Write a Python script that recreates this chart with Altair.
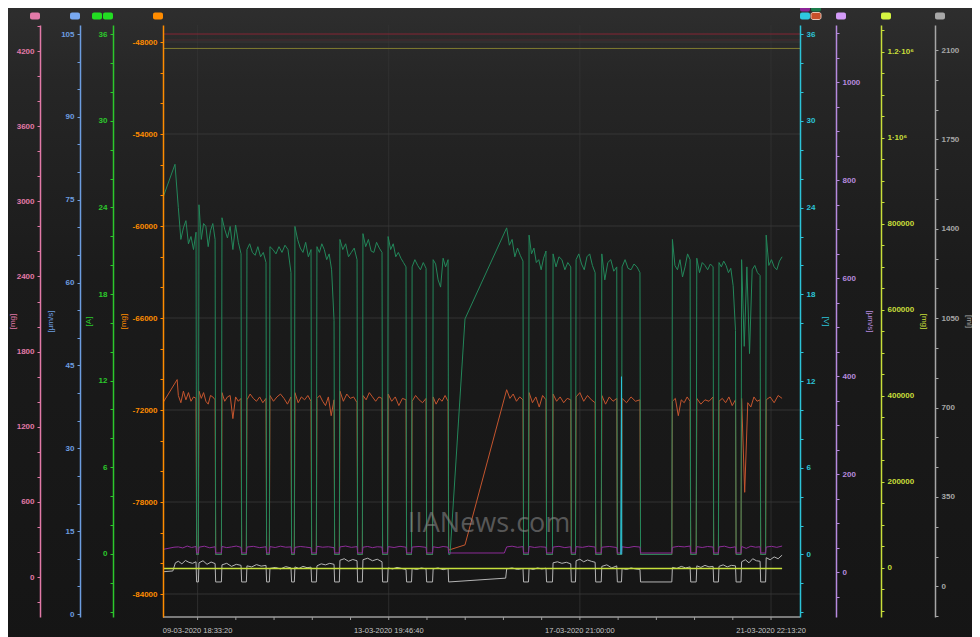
import altair as alt
import numpy as np
import pandas as pd

# ---------------- time axis ----------------
T0 = "2020-03-09 18:33:20"          # first labelled tick
X_DOMAIN_H = [-17.6, 306.4]         # visible span, hours from T0
X_TICK_S = 70000                    # tick spacing (s)
X_LABEL_S = 350000                  # labelled tick spacing (s)
N_XTICKS = 16

# ---------------- on-periods (hours from T0) ----------------
seg_bounds = [
    (-9.8, -0.8), (0.7, 8.9), (12.4, 22.1), (25.1, 34.8), (36.8, 47.5),
    (49.5, 57.7), (60.7, 69.4), (72.4, 81.1), (84.1, 93.8), (96.9, 106.0),
    (109.1, 116.2), (119.8, 127.4), (157.2, 165.5), (168.6, 177.2), (180.8, 189.8),
    (192.5, 202.2), (205.6, 213.2), (215.9, 225.0), (241.5, 250.5), (253.9, 262.2),
    (265.2, 273.6), (276.7, 286.1), (289.2, 297.3),
]

# dark green series [V]
green_lead = [(-17.6, 24.7), (-11.5, 27.0)]
green_segs = [
    [24.0, 21.8, 22.6, 23.1, 21.5, 22.0, 21.1, 22.3],
    [24.2, 21.8, 22.9, 22.7, 21.3, 22.4, 22.9, 21.8],
    [23.3, 22.5, 21.9, 22.7, 21.1, 22.8, 21.6, 20.8],
    [21.1, 21.5, 20.9, 20.7, 21.3, 20.6, 20.9, 20.2],
    [21.3, 21.1, 20.8, 21.3, 20.9, 21.4, 21.1, 19.5],
    [22.7, 21.8, 21.2, 20.9, 21.6, 20.6, 21.1],
    [21.3, 20.9, 21.5, 21.1, 20.4, 20.8, 19.7, 16.2],
    [21.8, 21.1, 21.5, 20.6, 20.9, 21.2, 20.4],
    [22.2, 21.3, 21.8, 21.0, 20.9, 21.6, 21.2, 20.9],
    [22.0, 21.1, 21.5, 20.6, 20.9, 20.5, 20.2, 19.9],
    [19.9, 20.4, 20.0, 19.7, 20.2, 19.8],
    [20.4, 20.1, 19.0, 18.5, 20.5, 19.9, 20.4],
    [22.6, 21.4, 21.8, 20.6, 21.2, 20.7, 20.3],
    [22.1, 20.8, 21.2, 20.2, 20.4, 19.7, 20.5, 21.0],
    [20.8, 19.9, 20.6, 20.4, 19.7, 20.2, 19.9],
    [20.4, 20.8, 20.1, 19.7, 20.6, 20.8, 20.0, 19.5],
    [20.8, 19.0, 20.2, 20.4, 19.6, 19.9],
    [19.9, 20.4, 19.8, 19.7, 20.1, 19.9, 19.5],
    [21.8, 20.0, 19.7, 20.4, 19.2, 19.9, 20.8, 20.4],
    [20.5, 19.5, 20.2, 20.0, 19.7, 20.1, 19.9],
    [20.2, 19.9, 20.3, 20.0, 19.5, 19.8, 18.6, 15.5],
    [20.4, 14.4, 19.9, 13.9, 19.7, 20.0, 19.5, 19.3],
    [22.1, 20.0, 20.4, 19.9, 19.7, 20.3, 20.6],
]
green_gaps = {11: [(127.7, 0.0), (128.4, 0.0), (136.0, 16.3)]}

# orange-red series [V]
ored_lead = [(-17.6, 10.5), (-10.4, 12.1)]
ored_segs = [
    [11.0, 10.5, 11.3, 10.7, 11.2, 10.6, 10.9, 10.8],
    [11.3, 10.8, 11.2, 10.6, 10.4, 11.0, 10.9, 10.7],
    [11.2, 10.6, 10.9, 11.0, 9.4, 10.9, 10.6, 10.8],
    [10.7, 11.1, 10.8, 10.6, 10.9, 10.5, 10.8],
    [11.0, 10.6, 10.9, 11.1, 10.8, 10.4, 10.9],
    [11.2, 10.5, 10.9, 10.7, 11.0, 10.6],
    [10.8, 11.0, 10.6, 10.3, 10.9, 9.6, 10.7],
    [11.3, 10.6, 11.1, 10.8, 10.9, 10.5],
    [11.0, 10.7, 11.2, 10.9, 10.6, 10.9, 10.8],
    [11.1, 10.6, 10.9, 10.3, 10.8, 10.7],
    [10.6, 11.0, 10.7, 10.5, 10.8],
    [10.9, 10.4, 10.8, 10.6, 11.0, 10.6],
    [11.4, 10.8, 11.1, 10.6, 10.9, 10.7],
    [11.2, 10.5, 10.9, 10.2, 11.0, 10.7],
    [11.1, 10.6, 10.9, 10.5, 10.8, 10.7],
    [10.9, 11.2, 10.6, 11.0, 10.7, 10.5],
    [11.0, 10.4, 10.9, 10.6, 10.8],
    [10.8, 10.5, 10.9, 10.6, 10.7],
    [10.6, 10.8, 9.6, 10.7, 10.5, 10.9, 10.6],
    [10.8, 10.4, 10.7, 10.6, 10.9],
    [10.6, 10.8, 10.5, 10.9, 10.3, 10.7],
    [10.8, 4.3, 10.5, 10.2, 10.9, 10.6, 10.7],
    [10.7, 10.9, 10.5, 11.0, 10.8],
]
ored_gaps = {11: [(127.7, 0.3), (136.0, 0.66)]}

# purple series [V]
purple_lead = [(-17.6, 0.35), (-12.0, 0.5)]
purple_segs = [
    [0.52, 0.45, 0.58, 0.48, 0.55], [0.50, 0.57, 0.46, 0.53], [0.55, 0.47, 0.52, 0.58, 0.49],
    [0.51, 0.56, 0.47, 0.53], [0.54, 0.48, 0.57, 0.50, 0.52], [0.49, 0.55, 0.51, 0.46],
    [0.56, 0.50, 0.53, 0.47], [0.52, 0.58, 0.49, 0.54], [0.50, 0.55, 0.47, 0.53, 0.51],
    [0.54, 0.48, 0.56, 0.50], [0.51, 0.55, 0.49], [0.53, 0.47, 0.55, 0.50],
    [0.52, 0.57, 0.49, 0.54], [0.55, 0.48, 0.53, 0.50], [0.51, 0.56, 0.47, 0.53],
    [0.54, 0.49, 0.57, 0.51], [0.50, 0.55, 0.48], [0.53, 0.47, 0.55, 0.51],
    [0.49, 0.56, 0.52, 0.58], [0.54, 0.48, 0.55, 0.51], [0.52, 0.57, 0.46, 0.53],
    [0.55, 0.42, 0.57, 0.50, 0.53], [0.51, 0.56, 0.49, 0.58],
]
purple_gaps = {11: [(127.7, 0.1), (156.0, 0.1)]}

# cyan series [V] (short spike)
cyan_pts = [(215.2, 0.0), (215.6, 12.3), (215.75, 0.0)]

# gray series [ml]
gray_lead = [(-17.6, 57), (-12.6, 60), (-11.3, 92)]
gray_segs = [
    [98, 88, 101, 94, 90, 96], [92, 100, 86, 95, 89], [84, 90, 78, 86, 82],
    [80, 76, 85, 79, 82], [70, 74, 68, 77, 72], [76, 70, 78, 73, 75],
    [80, 88, 84, 90, 86], [102, 108, 98, 105, 100], [104, 110, 100, 106, 96],
    [72, 68, 74, 70, 66], [70, 66, 72, 68], [68, 72, 65, 70],
    [68, 72, 66, 70], [70, 66, 72, 68, 71], [92, 96, 90, 94, 88],
    [100, 106, 96, 103, 98, 94], [78, 84, 72, 80], [70, 66, 72, 68, 66],
    [74, 70, 78, 72, 76], [80, 74, 82, 76, 78], [78, 84, 76, 82, 80],
    [96, 104, 92, 108, 100, 98], [112, 104, 115, 108, 122],
]
gray_gaps = {11: [(127.7, 17), (156.7, 32)]}

# yellow-green series [mg]
yellow_pts = [(-17.6, -2000), (297.3, -2000)]

# top limit lines on the orange [mg] axis
limit_hi = -47480
limit_mid = -47870
limit_lo = -48420

# axis ranges
Y_PINK = [-319, 4408]
Y_BLUE = [-0.54, 106.63]
Y_GREEN = [-4.38, 36.64]
Y_ORANGE = [-85500, -46891]
Y_CYAN = [-4.33, 36.64]
Y_VIOLET = [-91, 1117]
Y_YELLOW = [-114650, 1262000]
Y_GRAY = [-120.2, 2197.9]

# ---------------- build ----------------
FONT = "Liberation Sans"
W, H = 637, 592
T0_MS = pd.Timestamp(T0, tz="UTC").value // 10**6
H_MS = 3600000


def build(lead, segs, off, gaps):
    pts = list(lead)
    for i, ((a, b), vals) in enumerate(zip(seg_bounds, segs)):
        ts = np.linspace(a, b, len(vals))
        pts += list(zip(ts, vals))
        if i < len(seg_bounds) - 1:
            if i in gaps:
                pts += gaps[i]
            else:
                pts += [(b + 0.3, off), (seg_bounds[i + 1][0] - 0.3, off)]
    return pts


def frame(points, field):
    h = np.array([p[0] for p in points], dtype=float)
    return pd.DataFrame({"t": T0_MS + h * H_MS, field: [p[1] for p in points]})


X_SCALE = alt.Scale(nice=False, zero=False,
                    domain=[T0_MS + X_DOMAIN_H[0] * H_MS, T0_MS + X_DOMAIN_H[1] * H_MS])
x_plain = alt.X("t:Q", scale=X_SCALE, axis=None)
xticks = [int(T0_MS + k * X_TICK_S * 1000) for k in range(N_XTICKS)]
xlabel_ticks = [t for t in xticks if (t - T0_MS) % (X_LABEL_S * 1000) == 0]


def yaxis(color, title, orient, offset, values, expr, title_x):
    return alt.Axis(
        orient=orient, offset=offset, values=values, labelExpr=expr,
        title=title, titleColor=color, titleFont=FONT, titleFontSize=8, titleFontWeight="normal",
        titleAngle=270 if orient == "left" else 90, titleX=title_x, titleY=H / 2,
        titleAlign="center", titleBaseline="middle",
        domainColor=color, domainWidth=1.5, tickColor=color, tickSize=3,
        labelColor=color, labelFont=FONT, labelFontSize=8, labelFontWeight="bold", labelPadding=3,
        labelOverlap=False, labelFlush=False, grid=False, zindex=1,
    )


C_PINK, C_BLUE, C_GREEN, C_ORANGE = "#e27aa8", "#6d9de0", "#2cc82c", "#ff8c00"
C_CYAN, C_VIOLET, C_YELLOW, C_GRAY = "#2cc3d8", "#b68ade", "#c8df3a", "#a6a6a6"
C_XAXIS = "#9c9c9c"

ax_pink = yaxis(C_PINK, "[mg]", "left", 123, list(range(-200, 4401, 200)),
                "datum.value % 600 === 0 ? '' + datum.value : ''", -28)
ax_blue = yaxis(C_BLUE, "[µm/s]", "left", 83, list(range(0, 106, 5)),
                "datum.value % 15 === 0 ? '' + datum.value : ''", -30)
ax_green = yaxis(C_GREEN, "[A]", "left", 50, list(range(-4, 37, 2)),
                 "datum.value % 6 === 0 ? '' + datum.value : ''", -25)
ax_orange = yaxis(C_ORANGE, "[mg]", "left", 0, list(range(-84000, -47999, 2000)),
                  "datum.value % 6000 === 0 ? '' + datum.value : ''", -40)
ax_cyan = yaxis(C_CYAN, "[V]", "right", 0, list(range(-4, 37, 2)),
                "datum.value % 6 === 0 ? '' + datum.value : ''", 25)
ax_violet = yaxis(C_VIOLET, "[µm/s]", "right", 36, list(range(-50, 1101, 50)),
                  "datum.value % 200 === 0 ? '' + datum.value : ''", 33)
ax_yellow = yaxis(C_YELLOW, "[mg]", "right", 81, list(range(-100000, 1250001, 50000)),
                  "datum.value % 200000 === 0 ? (datum.value === 1000000 ? '1·10⁶' : datum.value === 1200000 ? '1.2·10⁶' : '' + datum.value) : ''", 42)
ax_gray = yaxis(C_GRAY, "[ml]", "right", 135, [round(k * 350 / 3, 3) for k in range(-1, 19)],
                "abs(datum.value / 350 - round(datum.value / 350)) < 0.001 ? '' + round(datum.value) : ''", 33)


def sc(dom):
    return alt.Scale(domain=dom, nice=False, zero=False)


def ghost(field, dom, axis):
    df = pd.DataFrame({"t": [T0_MS], field: [dom[0]]})
    return alt.Chart(df).mark_point(opacity=0).encode(
        x=x_plain, y=alt.Y(f"{field}:Q", scale=sc(dom), axis=axis))


def line(df, field, dom, axis, color, width=1.0):
    return alt.Chart(df).mark_line(color=color, strokeWidth=width, clip=True).encode(
        x=x_plain, y=alt.Y(f"{field}:Q", scale=sc(dom), axis=axis))


# background gradient
one = pd.DataFrame({"z": [0]})
bg = alt.Chart(one).mark_rect(
    fill=alt.Gradient(gradient="linear", x1=0, x2=0, y1=0, y2=1, stops=[
        alt.GradientStop(color="#2e2e2e", offset=0),
        alt.GradientStop(color="#262626", offset=0.12),
        alt.GradientStop(color="#1b1b1b", offset=0.42),
        alt.GradientStop(color="#151515", offset=1),
    ])
).encode(x=alt.value(-160), x2=alt.value(820), y=alt.value(-20), y2=alt.value(H + 30))

# vertical grid at labelled time ticks
vgrid = alt.Chart(pd.DataFrame({"t": xlabel_ticks})).mark_rule(
    strokeWidth=1, color="#333333", opacity=0.8).encode(x=x_plain)

# time axis: line, ticks and labels driven by the shared x scale
x_domain_line = alt.Chart(one).mark_rule(color=C_XAXIS, strokeWidth=1.5).encode(
    x=alt.value(0), x2=alt.value(W), y=alt.value(H))
x_ticks = alt.Chart(pd.DataFrame({"t": xticks})).mark_rule(color=C_XAXIS, strokeWidth=1).encode(
    x=x_plain, y=alt.value(H), y2=alt.value(H + 3))
lab_df = pd.DataFrame({"t": xlabel_ticks})
lab_df["label"] = pd.to_datetime(lab_df["t"], unit="ms").dt.strftime("%d-%m-%Y %H:%M:%S")
x_labels = alt.Chart(lab_df).mark_text(
    color="#c4c4c4", font="Liberation Sans Narrow, Liberation Sans", fontSize=7.5,
    align="center", baseline="alphabetic").encode(
    x=x_plain, y=alt.value(H + 16), text="label:N")

# orange group: horizontal grid + limit lines
hgrid_df = pd.DataFrame({"mg": list(range(-84000, -47999, 6000))})
hgrid = alt.Chart(hgrid_df).mark_rule(color="#3a3a3a", strokeWidth=1, opacity=0.8).encode(
    y=alt.Y("mg:Q", scale=sc(Y_ORANGE), axis=ax_orange))
span = [X_DOMAIN_H[0], X_DOMAIN_H[1]]
top_hi = line(frame([(h, limit_hi) for h in span], "mg"), "mg", Y_ORANGE, ax_orange, "#862635")
top_mid = line(frame([(h, limit_mid) for h in span], "mg"), "mg", Y_ORANGE, ax_orange, "#4a2b30")
top_lo = line(frame([(h, limit_lo) for h in span], "mg"), "mg", Y_ORANGE, ax_orange, "#807c30")
orange_group = alt.layer(hgrid, top_hi, top_mid, top_lo)

# cyan [V] group
df_ored = frame(build(ored_lead, ored_segs, 0.0, ored_gaps), "V")
df_green = frame(build(green_lead, green_segs, 0.0, green_gaps), "V")
df_purple = frame(build(purple_lead, purple_segs, 0.1, purple_gaps), "V")
df_cyan = frame(cyan_pts, "V")
cyan_group = alt.layer(
    line(df_ored, "V", Y_CYAN, ax_cyan, "#c4552e"),
    line(df_green, "V", Y_CYAN, ax_cyan, "#23875a"),
    line(df_purple, "V", Y_CYAN, ax_cyan, "#8d2c98"),
    line(df_cyan, "V", Y_CYAN, ax_cyan, "#2cc3d8"),
)

gray_l = line(frame(build(gray_lead, gray_segs, 17, gray_gaps), "ml"), "ml", Y_GRAY, ax_gray, "#b4b4b4")
yellow_l = line(frame(yellow_pts, "mgy"), "mgy", Y_YELLOW, ax_yellow, "#c6e03c", width=1.6)

wm = alt.Chart(one).mark_text(text="IIANews.com", font="Open Sans", fontSize=27,
                              color="#8c8c8c", opacity=0.55).encode(
    x=alt.value(326), y=alt.value(499))

# legend swatches above each axis: (color, side, axis offset, column, row, stroke)
swatch_specs = [
    (C_PINK, "left", 123, 0, 1, None), ("#78a8f0", "left", 83, 0, 1, None),
    ("#22dd22", "left", 50, 1, 1, None), ("#22dd22", "left", 50, 0, 1, None),
    ("#ff8c00", "left", 0, 0, 1, None),
    ("#8b2496", "right", 0, 0, 0, None), ("#1b7a4a", "right", 0, 1, 0, None),
    ("#2ec8e0", "right", 0, 0, 1, None), ("#c8502a", "right", 0, 1, 1, "#e8c4b4"),
    ("#d49cf8", "right", 36, 0, 1, None), ("#d6f542", "right", 81, 0, 1, None),
    ("#a8a8a8", "right", 135, 0, 1, None),
]
swatches = []
for col, side, off, c, r, stroke in swatch_specs:
    if side == "left":
        x2 = -off - c * 11
        x1 = x2 - 10
    else:
        x1 = W + off + c * 11
        x2 = x1 + 10
    y1 = -20.5 + r * 8
    kw = dict(fill=col, cornerRadius=2)
    if stroke:
        kw.update(stroke=stroke, strokeWidth=1)
    swatches.append(alt.Chart(one).mark_rect(**kw).encode(
        x=alt.value(x1), x2=alt.value(x2), y=alt.value(y1), y2=alt.value(y1 + 7)))

chart = alt.layer(
    bg,
    vgrid,
    ghost("pink", Y_PINK, ax_pink),
    ghost("blue", Y_BLUE, ax_blue),
    ghost("amp", Y_GREEN, ax_green),
    orange_group,
    gray_l,
    yellow_l,
    cyan_group,
    ghost("vio", Y_VIOLET, ax_violet),
    wm,
    x_domain_line,
    x_ticks,
    x_labels,
    *swatches,
).resolve_scale(y="independent").properties(
    width=W, height=H,
    padding={"left": 155, "top": 17, "right": 172, "bottom": 20},
    autosize=alt.AutoSizeParams(type="none"),
    background="#151515",
).configure_view(strokeWidth=0)

chart.save("out.html", embed_options={"renderer": "svg", "actions": False})
